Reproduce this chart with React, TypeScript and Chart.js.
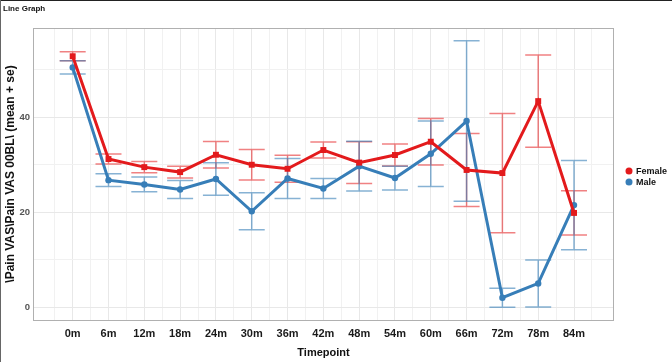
import React, { useEffect, useRef } from "react";
import { Chart, registerables } from "chart.js";

Chart.register(...registerables);

const categories = ["0m", "6m", "12m", "18m", "24m", "30m", "36m", "42m", "48m", "54m", "60m", "66m", "72m", "78m", "84m"];
const months = [0, 6, 12, 18, 24, 30, 36, 42, 48, 54, 60, 66, 72, 78, 84];
const femaleMean = [52.85, 31.2, 29.5, 28.45, 32.1, 30.0, 29.15, 33.1, 30.45, 32.05, 34.85, 28.9, 28.25, 43.4, 19.85];
const femaleSe = [0.95, 1.05, 1.2, 1.25, 2.8, 3.2, 2.85, 1.7, 4.4, 2.3, 4.9, 7.7, 12.55, 9.7, 4.65];
const maleMean = [50.5, 26.75, 25.85, 24.8, 27.0, 20.2, 27.1, 25.0, 29.7, 27.2, 32.3, 39.2, 2.0, 5.0, 21.5];
const maleSe = [1.4, 1.35, 1.55, 1.9, 3.4, 3.9, 4.2, 2.1, 5.25, 2.5, 6.9, 16.9, 2.0, 4.95, 9.4];
const yTickLabels = [0, 20, 40];
const seriesNames = ["Female", "Male"];
const chartTitle = "Line Graph";
const yTitle = "\\Pain VAS\\Pain VAS 00BL\\ (mean + se)";
const xTitle = "Timepoint";

const RED = "#e31a1c";
const BLUE = "#377eb8";
const RED_ERR = "rgba(227,26,28,0.55)";
const BLUE_ERR = "rgba(55,126,184,0.6)";

const errorBarPlugin = {
  id: "errorBars",
  beforeDatasetsDraw(chart: any) {
    const { ctx, scales } = chart;
    const xs = scales.x;
    const ys = scales.y;
    chart.data.datasets.forEach((ds: any) => {
      const se: number[] = ds.errorValues;
      ctx.save();
      ctx.strokeStyle = ds.errorColor;
      ctx.lineWidth = 1.5;
      ds.data.forEach((p: any, i: number) => {
        const px = xs.getPixelForValue(p.x);
        const top = ys.getPixelForValue(p.y + se[i]);
        const bot = ys.getPixelForValue(p.y - se[i]);
        const half = 13;
        ctx.beginPath();
        ctx.moveTo(px, top);
        ctx.lineTo(px, bot);
        ctx.moveTo(px - half, top);
        ctx.lineTo(px + half, top);
        ctx.moveTo(px - half, bot);
        ctx.lineTo(px + half, bot);
        ctx.stroke();
      });
      ctx.restore();
    });
  },
};

const decorPlugin = {
  id: "decor",
  afterDraw(chart: any) {
    const { ctx, chartArea, width, height } = chart;
    ctx.save();
    // panel border
    ctx.strokeStyle = "#b0b0b0";
    ctx.lineWidth = 1;
    ctx.strokeRect(chartArea.left + 0.5, chartArea.top + 0.5, chartArea.right - chartArea.left - 1, chartArea.bottom - chartArea.top);
    // outer frame
    ctx.strokeStyle = "#222";
    ctx.beginPath();
    ctx.moveTo(0, 0.5);
    ctx.lineTo(width, 0.5);
    ctx.stroke();
    ctx.strokeStyle = "#666";
    ctx.beginPath();
    ctx.moveTo(0.5, 0);
    ctx.lineTo(0.5, height);
    ctx.stroke();
    // title
    ctx.fillStyle = "#111";
    ctx.font = "bold 8px 'Liberation Sans', Arial, sans-serif";
    ctx.textBaseline = "middle";
    ctx.textAlign = "left";
    ctx.fillText(chartTitle, 3, 8.5);
    // legend
    const colors = [RED, BLUE];
    seriesNames.forEach((name, i) => {
      const cy = 171 + i * 11;
      ctx.fillStyle = colors[i];
      ctx.beginPath();
      ctx.arc(629, cy, 3.5, 0, Math.PI * 2);
      ctx.fill();
      ctx.fillStyle = "#111";
      ctx.font = "bold 9px 'Liberation Sans', Arial, sans-serif";
      ctx.fillText(name, 636, cy + 0.5);
    });
    ctx.restore();
  },
};

export default function App() {
  const ref = useRef<HTMLCanvasElement | null>(null);

  useEffect(() => {
    document.body.style.margin = "0";
    if (!ref.current) return;
    const chart = new Chart(ref.current, {
      type: "line",
      data: {
        datasets: [
          {
            label: seriesNames[0],
            data: months.map((m, i) => ({ x: m, y: femaleMean[i] })),
            borderColor: RED,
            backgroundColor: RED,
            borderWidth: 3,
            pointStyle: "rect",
            pointRadius: 4.2,
            pointBorderWidth: 0,
            tension: 0,
            errorValues: femaleSe,
            errorColor: RED_ERR,
          } as any,
          {
            label: seriesNames[1],
            data: months.map((m, i) => ({ x: m, y: maleMean[i] })),
            borderColor: BLUE,
            backgroundColor: BLUE,
            borderWidth: 3,
            pointStyle: "circle",
            pointRadius: 3.2,
            pointBorderWidth: 0,
            tension: 0,
            errorValues: maleSe,
            errorColor: BLUE_ERR,
          } as any,
        ],
      },
      options: {
        responsive: false,
        animation: false,
        layout: { padding: { left: 0, top: 28, right: 58, bottom: 0 } },
        plugins: {
          legend: { display: false },
          title: { display: false },
          tooltip: { enabled: false },
        },
        scales: {
          x: {
            type: "linear",
            min: -6.65,
            max: 90.7,
            afterBuildTicks: (scale: any) => {
              const t = [];
              for (let v = -3; v <= 87; v += 3) t.push({ value: v });
              scale.ticks = t;
            },
            afterFit: (scale: any) => {
              scale.height = 42;
            },
            ticks: {
              autoSkip: false,
              maxRotation: 0,
              padding: 7,
              color: "#1a1a1a",
              font: { family: "'Liberation Sans', Arial, sans-serif", size: 11, weight: "bold" },
              callback: (v: any) => {
                const idx = months.indexOf(Number(v));
                return idx >= 0 ? categories[idx] : "";
              },
            },
            grid: {
              drawTicks: false,
              color: (c: any) => (c.tick && c.tick.value % 6 === 0 ? "#e8e8e8" : "#f1f1f1"),
              lineWidth: 1,
            },
            border: { display: false },
            title: {
              display: true,
              text: xTitle,
              color: "#111",
              font: { family: "'Liberation Sans', Arial, sans-serif", size: 11, weight: "bold" },
              padding: { top: 0, bottom: 2.5 },
            },
          },
          y: {
            type: "linear",
            min: -2.7,
            max: 58.8,
            afterBuildTicks: (scale: any) => {
              scale.ticks = [0, 10, 20, 30, 40, 50].map((v) => ({ value: v }));
            },
            afterFit: (scale: any) => {
              scale.width = 33;
            },
            ticks: {
              autoSkip: false,
              padding: 3,
              color: "#555",
              font: { family: "'Liberation Sans', Arial, sans-serif", size: 9.5, weight: "bold" },
              callback: (v: any) => (yTickLabels.includes(Number(v)) ? String(v) : ""),
            },
            grid: {
              drawTicks: false,
              color: (c: any) => (c.tick && c.tick.value % 20 === 0 ? "#e8e8e8" : "#f1f1f1"),
              lineWidth: 1,
            },
            border: { display: false },
            title: {
              display: true,
              text: yTitle,
              color: "#111",
              font: { family: "'Liberation Sans', Arial, sans-serif", size: 12, weight: "bold" },
              padding: { top: 3, bottom: 0 },
            },
          },
        },
      },
      plugins: [errorBarPlugin, decorPlugin],
    });
    return () => chart.destroy();
  }, []);

  return <canvas ref={ref} width={672} height={362} style={{ display: "block" }} />;
}
